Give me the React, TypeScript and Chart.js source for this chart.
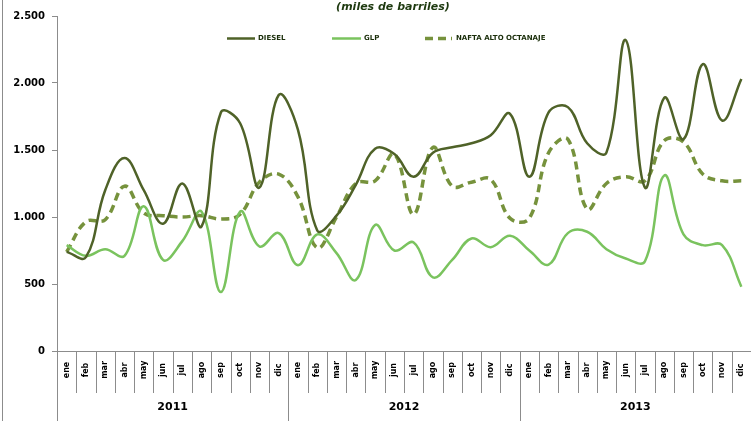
import React, { useEffect, useRef } from 'react';
import { Chart, registerables } from 'chart.js';

Chart.register(...registerables);

const monthNames = ['ene', 'feb', 'mar', 'abr', 'may', 'jun', 'jul', 'ago', 'sep', 'oct', 'nov', 'dic'];
const years = ['2011', '2012', '2013'];
const titleText = '(miles de barriles)';
const seriesNames = ['DIESEL', 'GLP', 'NAFTA ALTO OCTANAJE'];

const diesel = [740, 700, 1200, 1440, 1200, 950, 1250, 930, 1780, 1700, 1220, 1910,
  1650, 900, 1010, 1240, 1510, 1470, 1300, 1480, 1520, 1550, 1610, 1770,
  1300, 1780, 1820, 1550, 1480, 2320, 1220, 1890, 1580, 2140, 1720, 2030];
const glp = [790, 710, 760, 710, 1080, 680, 820, 1040, 440, 1040, 780, 880,
  640, 870, 730, 530, 940, 750, 810, 550, 680, 840, 775, 860,
  750, 645, 880, 890, 760, 690, 670, 1310, 870, 790, 790, 480];
const nafta = [740, 965, 980, 1230, 1030, 1010, 1000, 1010, 985, 1020, 1260, 1320,
  1150, 770, 1000, 1250, 1270, 1470, 1020, 1520, 1230, 1260, 1280, 990,
  990, 1480, 1580, 1060, 1250, 1300, 1270, 1570, 1560, 1320, 1270, 1270];

const yMin = 0;
const yMax = 2500;
const yStep = 500;

const labels = years.flatMap((y) => monthNames.map((m) => `${m} ${y}`));

const colors = ['#4F6228', '#7AC35E', '#76923C'];
const FONT = '"DejaVu Sans", sans-serif';

const decor = {
  id: 'decor',
  afterDraw(chart: any) {
    const { ctx, chartArea: a, scales } = chart;
    const xs = scales.x;
    const n = labels.length;
    ctx.save();
    // outer left border
    ctx.strokeStyle = '#8c8c8c';
    ctx.lineWidth = 1;
    ctx.beginPath();
    ctx.moveTo(2.5, 0);
    ctx.lineTo(2.5, chart.height);
    ctx.stroke();
    // x axis line
    ctx.beginPath();
    ctx.moveTo(a.left, a.bottom + 0.5);
    ctx.lineTo(a.right, a.bottom + 0.5);
    ctx.stroke();
    // separators
    for (let i = 0; i <= n; i++) {
      const px = Math.round(xs.getPixelForValue(i - 0.5)) + 0.5;
      const bottom = i % 12 === 0 ? chart.height : a.bottom + 42;
      ctx.beginPath();
      ctx.moveTo(px, a.bottom);
      ctx.lineTo(px, bottom);
      ctx.stroke();
    }
    // month labels
    ctx.fillStyle = '#000';
    ctx.font = `bold 8px ${FONT}`;
    ctx.textAlign = 'center';
    ctx.textBaseline = 'middle';
    for (let i = 0; i < n; i++) {
      ctx.save();
      ctx.translate(xs.getPixelForValue(i), a.bottom + 19);
      ctx.rotate(-Math.PI / 2);
      ctx.fillText(monthNames[i % 12], 0, 0);
      ctx.restore();
    }
    // year labels
    ctx.font = `bold 11px ${FONT}`;
    years.forEach((y, k) => {
      const cx = (xs.getPixelForValue(k * 12 - 0.5) + xs.getPixelForValue(k * 12 + 11.5)) / 2;
      ctx.fillText(y, cx, a.bottom + 56);
    });
    // title
    ctx.fillStyle = '#1E3A10';
    ctx.font = `italic bold 11px ${FONT}`;
    ctx.fillText(titleText, 393, 7);
    // legend
    const items = [
      { x0: 227, x1: 255, tx: 258, dash: [] as number[], w: 2.5 },
      { x0: 332, x1: 361, tx: 364, dash: [] as number[], w: 2.5 },
      { x0: 425, x1: 452, tx: 456, dash: [8, 5], w: 3.5 },
    ];
    items.forEach((it, k) => {
      ctx.strokeStyle = colors[k];
      ctx.lineWidth = it.w;
      ctx.setLineDash(it.dash);
      ctx.beginPath();
      ctx.moveTo(it.x0, 38.5);
      ctx.lineTo(it.x1, 38.5);
      ctx.stroke();
      ctx.setLineDash([]);
      ctx.fillStyle = '#1a2e0a';
      ctx.font = `bold 7px ${FONT}`;
      ctx.textAlign = 'left';
      ctx.fillText(seriesNames[k], it.tx, 38.5);
    });
    ctx.restore();
  },
};

export default function App() {
  const ref = useRef<HTMLCanvasElement>(null);
  useEffect(() => {
    document.body.style.margin = '0';
    const canvas = ref.current;
    if (!canvas) return;
    const chart = new Chart(canvas, {
      type: 'line',
      data: {
        labels,
        datasets: [
          { label: seriesNames[0], data: diesel, borderColor: colors[0], borderWidth: 2.5, pointRadius: 0, tension: 0.4, fill: false },
          { label: seriesNames[1], data: glp, borderColor: colors[1], borderWidth: 2.5, pointRadius: 0, tension: 0.4, fill: false },
          { label: seriesNames[2], data: nafta, borderColor: colors[2], borderWidth: 3.5, borderDash: [8, 5], pointRadius: 0, tension: 0.4, fill: false },
        ],
      },
      options: {
        responsive: false,
        animation: false,
        devicePixelRatio: 1,
        layout: { padding: { top: 16, right: 0, bottom: 70, left: 0 } },
        plugins: { legend: { display: false }, title: { display: false }, tooltip: { enabled: false } },
        scales: {
          x: { display: false, offset: true },
          y: {
            min: yMin,
            max: yMax,
            afterFit: (s: any) => { s.width = 57; },
            ticks: {
              stepSize: yStep,
              padding: 7,
              color: '#000',
              font: { family: FONT, weight: 'bold', size: 10 },
              callback: (v: any) => Number(v).toLocaleString('de-DE'),
            },
            grid: { drawOnChartArea: false, drawTicks: true, tickLength: 5, color: '#8c8c8c' },
            border: { display: true, color: '#8c8c8c', width: 1 },
          },
        },
      },
      plugins: [decor],
    });
    return () => chart.destroy();
  }, []);
  return (
    <div style={{ position: 'absolute', left: 0, top: 0, width: 751, height: 421, background: '#fff' }}>
      <canvas ref={ref} width={751} height={421} />
    </div>
  );
}
